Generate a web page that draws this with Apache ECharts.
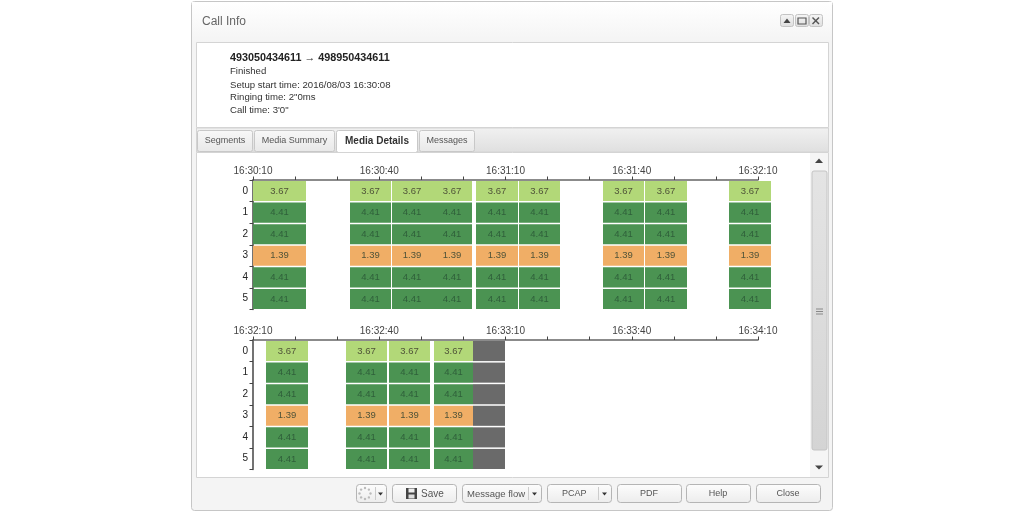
<!DOCTYPE html>
<html><head><meta charset="utf-8">
<style>html,body{margin:0;padding:0;background:#fff}#c{width:1024px;height:512px;filter:blur(0.35px)}</style>
<script src="https://cdn.jsdelivr.net/npm/echarts@6/dist/echarts.min.js"></script>
</head><body><div id="c"></div>
<script>
// ---- data ----
const rowLabels = ['0','1','2','3','4','5'];
const rowValues = [3.67,4.41,4.41,1.39,4.41,4.41];
const topBase = 59410;    // 16:30:10 in seconds of day
const bottomBase = 59530; // 16:32:10
const topStarts = [0.1,23.05,33.0,42.5,53.1,63.2,83.2,93.1,113.1];
const topEnds   = [12.6,32.9,42.5,52.0,63.0,73.0,92.9,103.1,123.1];
const bottomStarts = [3.1,22.1,32.2,43.1];
const bottomEnds   = [13.0,31.9,42.1,52.2];
const noDataStarts = [52.2];
const noDataEnds   = [59.9];
const infoLines = ['Finished','Setup start time: 2016/08/03 16:30:08','Ringing time: 2"0ms','Call time: 3\'0"'];
const callTitle = '493050434611 \u2192 498950434611';
const tabNames = ['Segments','Media Summary','Media Details','Messages'];

// ---- helpers ----
const F = '"Liberation Sans", Arial, sans-serif';
const colorOf = v => v >= 4 ? '#4b9352' : v >= 3 ? '#b2d878' : '#f0ae66';
const textOf = v => v >= 4 ? '#2f5f3a' : '#4f5338';
function cells(starts, ends, base){
  const out = [];
  starts.forEach((s,i)=>rowValues.forEach((v,r)=>out.push([base+s, base+ends[i], r, v])));
  return out;
}
function noData(starts, ends, base){
  const out = [];
  starts.forEach((s,i)=>rowValues.forEach((v,r)=>out.push([base+s, base+ends[i], r])));
  return out;
}
function fmt(sec){
  if((sec-topBase)%30!==0) return '';
  const p=n=>String(n).padStart(2,'0');
  return p(Math.floor(sec/3600))+':'+p(Math.floor(sec/60)%60)+':'+p(sec%60);
}
function cellItem(params, api, fill, label, labelFill){
  const a = api.coord([api.value(0), api.value(2)]);
  const b = api.coord([api.value(1), api.value(2)]);
  const h = api.size([0,1])[1];
  const y0 = a[1]-h/2+1, ht = h-1.5;
  const x0 = Math.round(a[0]), x1 = Math.round(b[0]);
  const el = {type:'rect', shape:{x:x0, y:y0, width:x1-x0, height:ht}, style:{fill}};
  if(label!=null){
    el.textContent = {style:{text:label, fill:labelFill, font:'9.5px '+F}};
    el.textConfig = {position:'inside'};
  }
  return el;
}
const cellSeries = (data, xi) => ({
  type:'custom', xAxisIndex:xi, yAxisIndex:xi, z:6, data, silent:true,
  encode:{x:[0,1], y:2},
  renderItem:(p,api)=>{const v=api.value(3);return cellItem(p,api,colorOf(v),v.toFixed(2),textOf(v));}
});
const greySeries = (data, xi) => ({
  type:'custom', xAxisIndex:xi, yAxisIndex:xi, z:6, data, silent:true,
  encode:{x:[0,1], y:2},
  renderItem:(p,api)=>cellItem(p,api,'#6a6a6a')
});
const xAxis = (gi,base) => ({
  type:'value', gridIndex:gi, position:'top', min:base, max:base+120, interval:10, z:5,
  splitLine:{show:false},
  axisLine:{show:true,onZero:false,lineStyle:{color:'#666',width:1.5}},
  axisTick:{show:true,inside:false,length:3.5,lineStyle:{color:'#444',width:1}},
  axisLabel:{formatter:fmt,color:'#444',fontSize:10,fontFamily:F,margin:4,hideOverlap:false,showMinLabel:true,showMaxLabel:true}
});
const yAxis = gi => ({
  type:'category', gridIndex:gi, inverse:true, data:rowLabels, z:5,
  axisLine:{show:true,lineStyle:{color:'#444',width:1.5}},
  axisTick:{show:true,length:3.5,lineStyle:{color:'#444',width:1}},
  axisLabel:{color:'#222',fontSize:10,fontFamily:F,margin:5}
});

// ---- chrome ----
const grad = (a,b)=>({type:'linear',x:0,y:0,x2:0,y2:1,colorStops:[{offset:0,color:a},{offset:1,color:b}]});
const R = (x,y,w,h,fill,stroke,r,lw)=>({type:'rect',z:-5,silent:true,shape:{x,y,width:w,height:h,r:r||0},style:{fill:fill||'none',stroke:stroke||'none',lineWidth:lw||1}});
const T = (x,y,text,o={})=>({type:'text',z:-4,silent:true,x,y,style:{text,fill:o.c||'#444',font:(o.b?'bold ':'')+(o.s||10)+'px '+F,textAlign:o.a||'left',textVerticalAlign:'middle'}});
const P = (pts,fill)=>({type:'polygon',z:-4,silent:true,shape:{points:pts},style:{fill}});
const L = (x1,y1,x2,y2,c,w)=>({type:'line',z:-4,silent:true,shape:{x1,y1,x2,y2},style:{stroke:c,lineWidth:w||1}});

function btn(x,w,label,tx,s){
  const e=[R(x+.5,484.5,w,18,grad('#fdfdfd','#ececec'),'#b5b5b5',3)];
  if(label) e.push(T(tx==null?x+w/2:tx,494,label,{a:tx==null?'center':'left',c:'#555',s:s||9}));
  return e;
}
const g = [];
g.push(R(191.5,1.5,641,509,'#f4f4f4','#c6c6c6',3));
g.push(R(192,2,640,40,grad('#ffffff','#f4f4f4')));
g.push(T(202,22,'Call Info',{s:12,c:'#666'}));
[[780,'u'],[795,'m'],[809,'x']].forEach(([x,k])=>{
  g.push(R(x+.5,14.5,13,12,grad('#f6f6f6','#dedede'),'#c4c4c4',2));
  if(k==='u') g.push(P([[x+3.5,23],[x+10.5,23],[x+7,18.5]],'#444'));
  if(k==='m') g.push(R(x+3,18,8,6,'none','#555',0,1.2));
  if(k==='x'){g.push(L(x+3.5,17.5,x+10,24,'#555',1.4));g.push(L(x+10,17.5,x+3.5,24,'#555',1.4));}
});
g.push(R(196.5,42.5,632,85,'#fff','#d4d4d4'));
g.push(T(230,58,callTitle,{b:1,s:10.8,c:'#222'}));
infoLines.forEach((t,i)=>g.push(T(230,[71.5,85,97.5,110.5][i],t,{c:'#333',s:9.6})));
// tab strip
g.push(R(196.5,128,632,24,grad('#f1f1f1','#dfdfdf'),'#d4d4d4'));
[[197,55],[254,80],[336,81],[419,55]].forEach(([x,w],i)=>{
  const act=i===2;
  g.push(R(x+.5,130.5,w,act?22:21,act?'#fff':grad('#f8f8f8','#e8e8e8'),'#c8c8c8',2));
  g.push(T(x+w/2+.5,141,tabNames[i],{a:'center',b:act,c:act?'#333':'#555',s:act?10:9}));
});
g.push(R(196.5,152.5,632,325,'#fff','#d4d4d4'));
// scrollbar
g.push(R(810,153,18,324,'#f5f5f5'));
g.push(P([[815,163],[823,163],[819,158.5]],'#444'));
g.push(P([[815,465.5],[823,465.5],[819,469.5]],'#444'));
g.push(R(812,171,15,279,grad('#e4e4e4','#d4d4d4'),'#c4c4c4',2));
[309,311.5,314].forEach(y=>g.push(L(816,y,823,y,'#888')));
// footer
g.push(...btn(356,30));
[0,1,2,3,4,5,6,7].forEach(i=>{const a=i*Math.PI/4;g.push({type:'circle',z:-4,silent:true,shape:{cx:365+5.5*Math.cos(a),cy:493.5+5.5*Math.sin(a),r:1.2},style:{fill:'#bbb'}});});
g.push(L(375.5,487,375.5,500,'#ccc'));
g.push(P([[378,492.5],[383,492.5],[380.5,495.5]],'#333'));
g.push(...btn(392,64,'Save',421,10));
g.push(R(406,488,11,11,'#444'));g.push(R(408.5,488.5,6,4,'#eee'));g.push(R(408.5,494.5,6,4,'#ddd'));
g.push(...btn(462,79,'Message flow',467,9.5));
g.push(L(528.5,487,528.5,500,'#ccc'));g.push(P([[532,492.5],[537,492.5],[534.5,495.5]],'#333'));
g.push(...btn(547,64,'PCAP',562,9));
g.push(L(598.5,487,598.5,500,'#ccc'));g.push(P([[602,492.5],[607,492.5],[604.5,495.5]],'#333'));
g.push(...btn(617,64,'PDF'));
g.push(...btn(686,64,'Help'));
g.push(...btn(756,64,'Close'));

const chart = echarts.init(document.getElementById('c'),null,{renderer:'canvas',width:1024,height:512});
chart.setOption({
  animation:false,
  backgroundColor:'#fff',
  graphic:{elements:g},
  grid:[
    {left:253,width:505,top:180,height:129.5},
    {left:253,width:505,top:340,height:129.5}
  ],
  xAxis:[xAxis(0,topBase),xAxis(1,bottomBase)],
  yAxis:[yAxis(0),yAxis(1)],
  series:[
    cellSeries(cells(topStarts,topEnds,topBase),0),
    cellSeries(cells(bottomStarts,bottomEnds,bottomBase),1),
    greySeries(noData(noDataStarts,noDataEnds,bottomBase),1)
  ]
});
</script></body></html>
